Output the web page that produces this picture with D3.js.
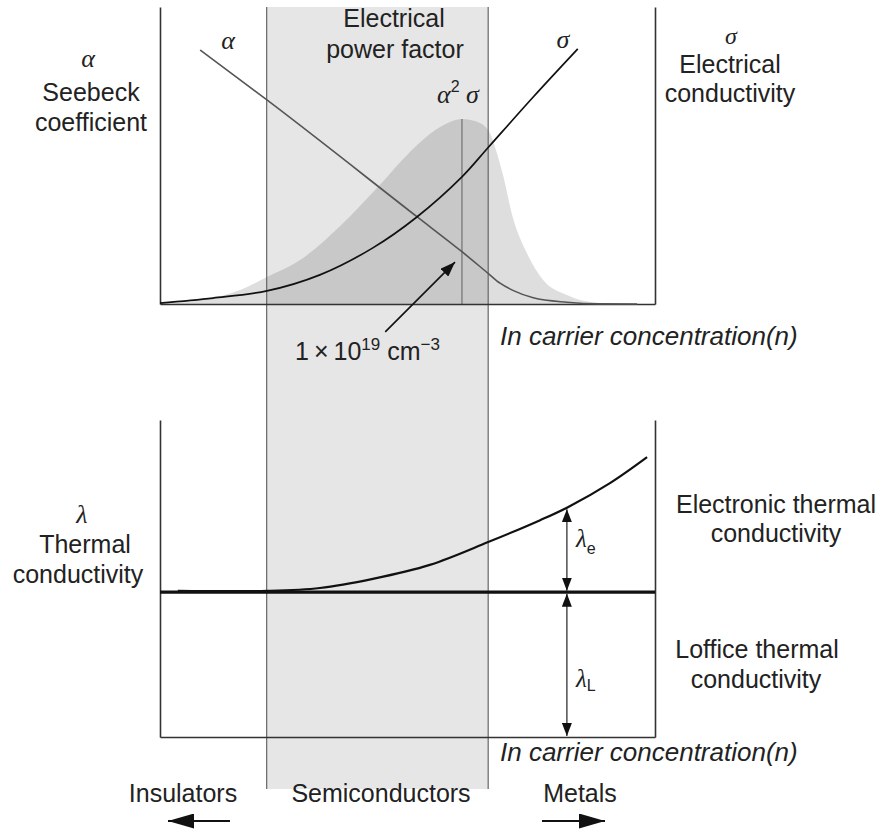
<!DOCTYPE html>
<html><head><meta charset="utf-8">
<script src="https://cdn.jsdelivr.net/npm/d3@7"></script>
<style>
body{margin:0;background:#fff}
svg text{font-family:"Liberation Sans",Arial,Helvetica,sans-serif;fill:#222;font-size:25px}
svg text .gk, svg text.gk{font-family:"Liberation Serif","Times New Roman",serif;font-style:italic}
</style></head><body>
<svg id="c" width="885" height="832"></svg>
<script>
// ---- data (x: position along ln carrier concentration, 0-100; y: relative value 0-100)
const bandRange = [21.55, 66.3];          // semiconductor region
const peakX = 61;                          // optimum ~1e19 cm^-3
const pfX = [0, 8.1, 16.2, 21.6, 28.3, 36.4, 44.4, 50.5, 56.6, 61, 63.6, 66.3, 68.0, 69.3, 71.3, 74.1, 77.4, 82.2, 88.9, 96.4];
const pfY = [0, 1.3, 4.7, 9.1, 14.8, 26.3, 40.1, 51.2, 59.6, 62.3, 61.6, 58.6, 51.2, 43.4, 29.0, 17.2, 8.1, 3.0, 0.3, 0];
const alphaX = [8.1, 21.6, 51.9, 61, 66.3, 68.7, 71.4, 75.4, 82.2, 88.9, 96.4];
const alphaY = [85.5, 68.7, 29.4, 17.6, 10.3, 7.0, 4.5, 2.1, 0.6, 0.05, 0];
const sigmaX = [0, 10.7, 21.6, 32.3, 43.0, 51.9, 61.0, 66.3, 75.4, 84.4];
const sigmaY = [0.3, 2.0, 4.4, 9.8, 18.9, 29.3, 42.8, 52.7, 69.7, 85.9];
const latticeY = 45.7;
const lamX = [3.6, 21.6, 32.3, 43.0, 54.5, 66.3, 76.8, 82.4, 90.9, 98.4];
const lamY = [46.1, 46.1, 47.0, 49.9, 54.3, 61.5, 68.4, 72.5, 80.1, 88.3];
const lamEArrowX = 82.2;
const noteFrom = [45.5, -9.4], noteTo = [59.6, 14.1];

const svg = d3.select("#c");
const xs = d3.scaleLinear().domain([0,100]).range([160,655]);
const yTop = d3.scaleLinear().domain([0,100]).range([304,7]);
const yBot = d3.scaleLinear().domain([0,100]).range([737,420]);
const bandBottom = 789;

const defs = svg.append("defs");
function marker(id, len, half, color){
  defs.append("marker").attr("id",id)
    .attr("viewBox",`${-len} ${-half} ${len} ${2*half}`)
    .attr("refX",0).attr("refY",0)
    .attr("markerWidth",len).attr("markerHeight",2*half)
    .attr("markerUnits","userSpaceOnUse").attr("orient","auto-start-reverse")
    .append("path").attr("d",`M${-len},${-half}L0,0L${-len},${half}Z`).attr("fill",color);
}
marker("ahS",13,5,"#111");
marker("ahN",15,5.5,"#111");
marker("ahB",26,7.5,"#111");

// semiconductor band
svg.append("rect").attr("x",xs(bandRange[0])).attr("y",yTop(100))
  .attr("width",xs(bandRange[1])-xs(bandRange[0])).attr("height",bandBottom-yTop(100))
  .attr("fill","#e6e6e6");

// power factor area
const pf = pfX.map((x,i)=>[x,pfY[i]]);
svg.append("path").datum(pf)
  .attr("d",d3.area().x(d=>xs(d[0])).y0(yTop(0)).y1(d=>yTop(d[1])).curve(d3.curveMonotoneX))
  .attr("fill","rgba(0,0,0,0.13)");

// band edges
bandRange.forEach(b=>{
  svg.append("line").attr("x1",xs(b)).attr("x2",xs(b)).attr("y1",yTop(100)).attr("y2",bandBottom)
    .attr("stroke","#666").attr("stroke-width",1.2);
});

// peak line
svg.append("line").attr("x1",xs(peakX)).attr("x2",xs(peakX))
  .attr("y1",yTop(d3.max(pfY))).attr("y2",yTop(0)).attr("stroke","#777").attr("stroke-width",1.3);

// axes
function axisStyle(g){ g.select(".domain").attr("stroke","#333").attr("stroke-width",1.6); g.selectAll(".tick").remove(); }
[yTop, yBot].forEach(ys=>{
  svg.append("g").attr("transform",`translate(${xs(0)},0)`).call(d3.axisLeft(ys).tickValues([]).tickSizeOuter(0)).call(axisStyle);
  svg.append("g").attr("transform",`translate(0,${ys(0)})`).call(d3.axisBottom(xs).tickValues([]).tickSizeOuter(0)).call(axisStyle);
  svg.append("g").attr("transform",`translate(${xs(100)},0)`).call(d3.axisRight(ys).tickValues([]).tickSizeOuter(0)).call(axisStyle);
});

// alpha & sigma
const lineTop = d3.line().x(d=>xs(d[0])).y(d=>yTop(d[1])).curve(d3.curveMonotoneX);
svg.append("path").datum(alphaX.map((x,i)=>[x,alphaY[i]])).attr("d",lineTop)
  .attr("fill","none").attr("stroke","#555").attr("stroke-width",1.6);
svg.append("path").datum(sigmaX.map((x,i)=>[x,sigmaY[i]]))
  .attr("d",d3.line().x(d=>xs(d[0])).y(d=>yTop(d[1])).curve(d3.curveCatmullRom.alpha(0.5)))
  .attr("fill","none").attr("stroke","#111").attr("stroke-width",1.7);

// annotation arrow
svg.append("line").attr("x1",xs(noteFrom[0])).attr("y1",yTop(noteFrom[1]))
  .attr("x2",xs(noteTo[0])).attr("y2",yTop(noteTo[1]))
  .attr("stroke","#111").attr("stroke-width",1.6).attr("marker-end","url(#ahN)");

// thermal conductivity
svg.append("line").attr("x1",xs(0)).attr("x2",xs(100)).attr("y1",yBot(latticeY)).attr("y2",yBot(latticeY))
  .attr("stroke","#111").attr("stroke-width",3.2);
const lineBot = d3.line().x(d=>xs(d[0])).y(d=>yBot(d[1])).curve(d3.curveCatmullRom.alpha(0.5));
svg.append("path").datum(lamX.map((x,i)=>[x,lamY[i]])).attr("d",lineBot)
  .attr("fill","none").attr("stroke","#111").attr("stroke-width",2.2);
const lamAt = d3.scaleLinear().domain(lamX).range(lamY);
svg.append("line").attr("x1",xs(lamEArrowX)).attr("x2",xs(lamEArrowX))
  .attr("y1",yBot(lamAt(lamEArrowX))+1.5).attr("y2",yBot(latticeY)-1.5)
  .attr("stroke","#333").attr("stroke-width",1.3)
  .attr("marker-start","url(#ahS)").attr("marker-end","url(#ahS)");
svg.append("line").attr("x1",xs(lamEArrowX)).attr("x2",xs(lamEArrowX))
  .attr("y1",yBot(latticeY)+1.5).attr("y2",yBot(0)-1)
  .attr("stroke","#333").attr("stroke-width",1.3)
  .attr("marker-start","url(#ahS)").attr("marker-end","url(#ahS)");

// bottom direction arrows
svg.append("line").attr("x1",230).attr("x2",168).attr("y1",821).attr("y2",821)
  .attr("stroke","#111").attr("stroke-width",2).attr("marker-end","url(#ahB)");
svg.append("line").attr("x1",542).attr("x2",605).attr("y1",821).attr("y2",821)
  .attr("stroke","#111").attr("stroke-width",2).attr("marker-end","url(#ahB)");

// ---- text
function txt(x,y,s,anchor,cls,size){
  const t = svg.append("text").attr("x",x).attr("y",y).attr("text-anchor",anchor||"middle").text(s);
  if(cls) t.attr("class",cls);
  if(size) t.style("font-size",size+"px");
  return t;
}
txt(88,67,"α","middle","gk",26);
txt(91,101,"Seebeck");
txt(91,131,"coefficient");

txt(394,27,"Electrical");
txt(395,58,"power factor");
txt(228,49,"α","middle","gk",26);
txt(563,48,"σ","middle","gk",26);

const a2s = svg.append("text").attr("x",458).attr("y",103).attr("text-anchor","middle");
a2s.append("tspan").attr("class","gk").style("font-size","26px").text("α");
a2s.append("tspan").attr("dy",-11).style("font-size","16px").text("2");
a2s.append("tspan").attr("dy",11).attr("class","gk").style("font-size","26px").text(" σ");

txt(731,44,"σ","middle","gk",24);
txt(730,73,"Electrical");
txt(730,102,"conductivity");

const note = svg.append("text").attr("x",295).attr("y",360).attr("text-anchor","start");
note.append("tspan").text("1\u2009×\u200910");
note.append("tspan").attr("dy",-10).style("font-size","17px").text("19");
note.append("tspan").attr("dy",10).text(" cm");
note.append("tspan").attr("dy",-10).style("font-size","17px").text("−3");

txt(500,345,"In carrier concentration(n)","start").style("font-style","italic").style("font-size","26px");
txt(500,761,"In carrier concentration(n)","start").style("font-style","italic").style("font-size","26px");

txt(82,523,"λ","middle","gk",26);
txt(85,553,"Thermal");
txt(78,583,"conductivity");

txt(776,513,"Electronic thermal");
txt(776,542,"conductivity");
txt(757,658,"Loffice thermal");
txt(756,688,"conductivity");

const le = svg.append("text").attr("x",576).attr("y",547).attr("text-anchor","start");
le.append("tspan").attr("class","gk").style("font-size","25px").text("λ");
le.append("tspan").attr("dy",7).style("font-size","16px").text("e");
const ll = svg.append("text").attr("x",576).attr("y",687).attr("text-anchor","start");
ll.append("tspan").attr("class","gk").style("font-size","25px").text("λ");
ll.append("tspan").attr("dy",4).style("font-size","16px").text("L");

txt(183,802,"Insulators");
txt(381,802,"Semiconductors");
txt(580,802,"Metals");
</script></body></html>
